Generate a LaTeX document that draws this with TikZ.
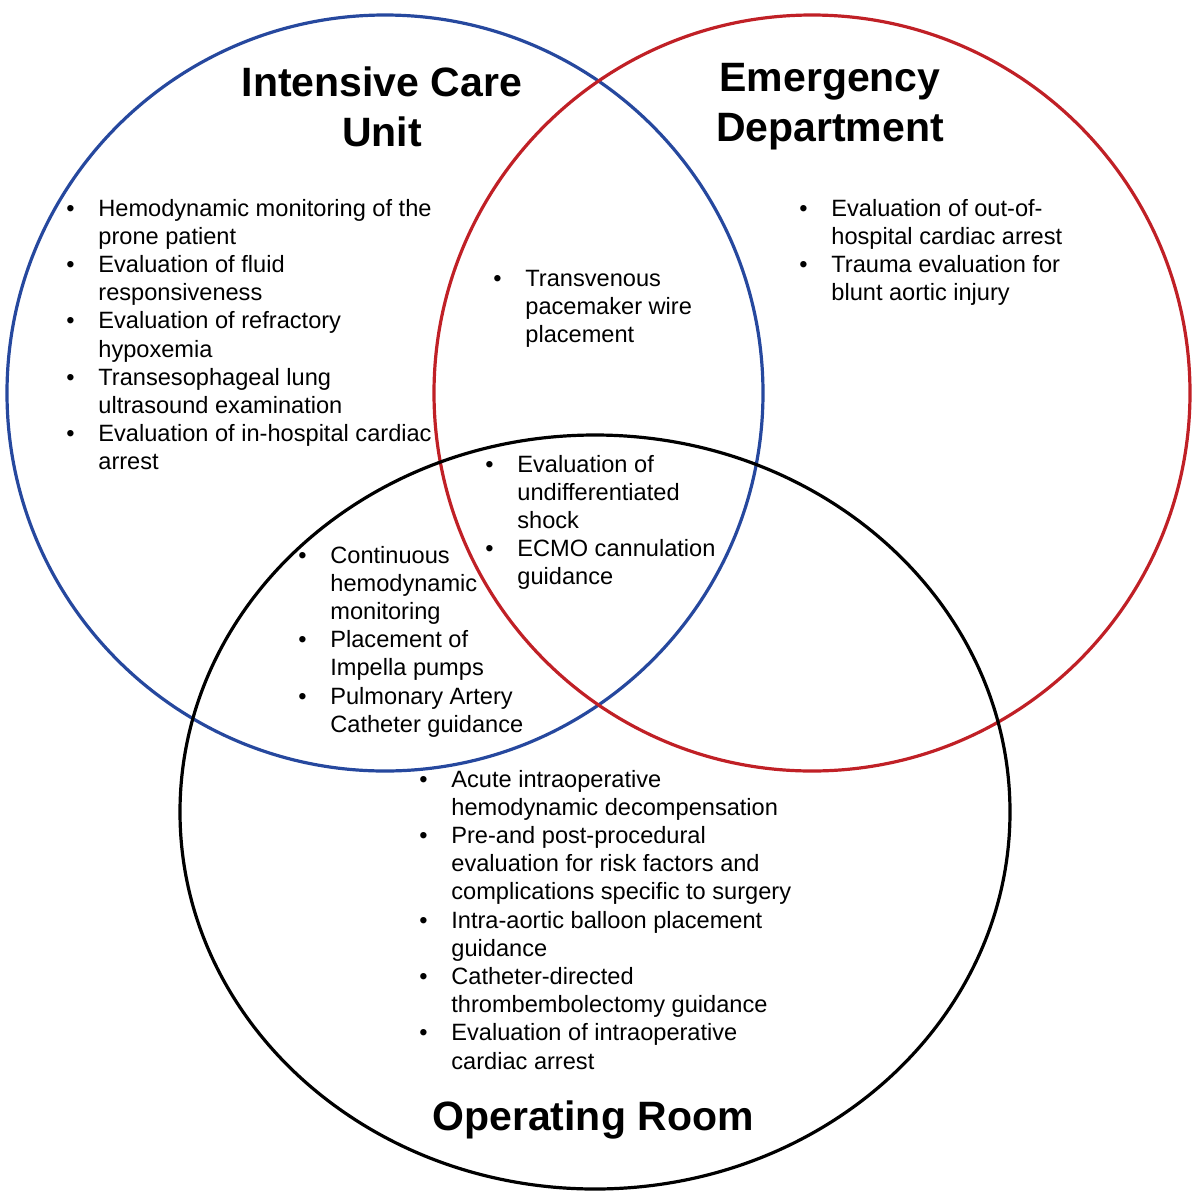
\documentclass[tikz,border=0pt]{standalone}
\usepackage{fontspec}
\setmainfont{Liberation Sans}
\usetikzlibrary{positioning,shapes.geometric}
\definecolor{icublue}{RGB}{38,72,158}
\definecolor{edred}{RGB}{192,32,38}
\newcommand{\bl}{\textbullet}
\begin{document}
\begin{tikzpicture}
    [   x = 0.5pt
    ,   y = -0.5pt
    ,   ring/.style =
        {   draw
        ,   circle
        ,   line width = 1.6pt
        ,   inner sep = 0mm
        }
    ,   title/.style =
        {   font = \fontsize{20.5}{25}\selectfont\bfseries
        ,   align = center
        }
    ,   list/.style =
        {   anchor = north west
        ,   inner sep = 0mm
        ,   font = \fontsize{11.8}{14.1}\selectfont
        }
    ]
    \useasboundingbox (0,0) rectangle (1196,1200);
    \node[ring, draw=icublue, minimum size=378pt] (icu) at (385,393) {};
    \node[ring, draw=edred, minimum size=378pt] (ed) at (812,393) {};
    \node[ring, draw=black, ellipse, minimum width=415pt, minimum height=377pt] (or) at (595,812) {};

    \node[title] (ICUT) at (382,107) {Intensive Care\\Unit};
    \node[title] (EDT) at (830,107) {Emergency\\Department};
    \node[title] (ORT) at (593,1120) {Operating Room};

    %icu only
    \node[list] (ICUL) at (66,196) {\begin{tabular}{@{}p{16pt}@{}l@{}}
        \bl & Hemodynamic monitoring of the\\ & prone patient\\
        \bl & Evaluation of fluid\\ & responsiveness\\
        \bl & Evaluation of refractory\\ & hypoxemia\\
        \bl & Transesophageal lung\\ & ultrasound examination\\
        \bl & Evaluation of in-hospital cardiac\\ & arrest
        \end{tabular}};
    %ed only
    \node[list] (EDL) at (799,196) {\begin{tabular}{@{}p{16pt}@{}l@{}}
        \bl & Evaluation of out-of-\\ & hospital cardiac arrest\\
        \bl & Trauma evaluation for\\ & blunt aortic injury
        \end{tabular}};
    %icu and ed
    \node[list] (IEL) at (493,266) {\begin{tabular}{@{}p{16pt}@{}l@{}}
        \bl & Transvenous\\ & pacemaker wire\\ & placement
        \end{tabular}};
    %all three
    \node[list] (ALL) at (485,452) {\begin{tabular}{@{}p{16pt}@{}l@{}}
        \bl & Evaluation of\\ & undifferentiated\\ & shock\\
        \bl & ECMO cannulation\\ & guidance
        \end{tabular}};
    %icu and or
    \node[list] (IOL) at (298,543) {\begin{tabular}{@{}p{16pt}@{}l@{}}
        \bl & Continuous\\ & hemodynamic\\ & monitoring\\
        \bl & Placement of\\ & Impella pumps\\
        \bl & Pulmonary Artery\\ & Catheter guidance
        \end{tabular}};
    %or only
    \node[list] (ORL) at (419,767) {\begin{tabular}{@{}p{16pt}@{}l@{}}
        \bl & Acute intraoperative\\ & hemodynamic decompensation\\
        \bl & Pre-and post-procedural\\ & evaluation for risk factors and\\ & complications specific to surgery\\
        \bl & Intra-aortic balloon placement\\ & guidance\\
        \bl & Catheter-directed\\ & thrombembolectomy guidance\\
        \bl & Evaluation of intraoperative\\ & cardiac arrest
        \end{tabular}};
\end{tikzpicture}
\end{document}
